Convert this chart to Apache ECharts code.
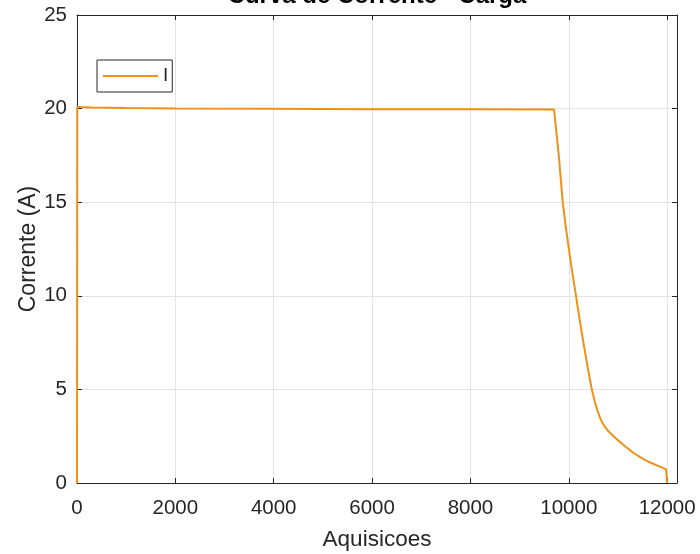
<!DOCTYPE html>
<html>
<head>
<meta charset="utf-8">
<script src="https://cdn.jsdelivr.net/npm/echarts@6/dist/echarts.min.js"></script>
<style>
  html, body { margin: 0; padding: 0; background: #fff; }
  #chart { width: 700px; height: 554px; }
</style>
</head>
<body>
<div id="chart"></div>
<script>
// Acquisition index (samples) and measured load current (A)
const aquisicoes = [
  0, 5, 50, 300, 1000, 2000, 4000, 6000, 8000, 9700,
  9719, 9800, 9876, 9940, 10000, 10070, 10146, 10210, 10270, 10330,
  10390, 10430, 10465, 10520, 10580, 10640, 10700, 10770, 10838, 10950,
  11050, 11150, 11244, 11262, 11285, 11350, 11450, 11584, 11700, 11800,
  11900, 11976, 12000, 12000
];
const corrente = [
  0, 20.1, 20.08, 20.06, 20.03, 20.01, 19.99, 19.97, 19.96, 19.95,
  19.95, 17.4, 15.0, 13.66, 12.52, 11.26, 10.0, 8.9, 7.93, 6.99,
  6.1, 5.53, 5.03, 4.42, 3.88, 3.45, 3.13, 2.87, 2.68, 2.4,
  2.17, 1.95, 1.76, 1.8, 1.66, 1.55, 1.38, 1.18, 1.04, 0.93,
  0.82, 0.74, 0.72, 0
];
const xTicks = [0, 2000, 4000, 6000, 8000, 10000, 12000];
const yTicks = [0, 5, 10, 15, 20, 25];

const FONT = '"Liberation Sans", Arial, Helvetica, sans-serif';
const AXIS = '#262626';
const GRID = '#e3e3e3';
const LINE = '#f0901a';

const points = aquisicoes.map((x, i) => [x, corrente[i]]);

const chart = echarts.init(document.getElementById('chart'), null, { renderer: 'canvas' });

const xBase = {
  type: 'value', min: 0, max: 12200, interval: 2000,
  nameMoveOverlap: false,
  axisLine: { show: true, onZero: false, lineStyle: { color: AXIS, width: 1 } },
  axisTick: { show: true, inside: true, length: 5, lineStyle: { color: AXIS } }
};
const yBase = {
  type: 'value', min: 0, max: 25, interval: 5,
  nameMoveOverlap: false,
  axisLine: { show: true, onZero: false, lineStyle: { color: AXIS, width: 1 } },
  axisTick: { show: true, inside: true, length: 5, lineStyle: { color: AXIS } }
};

chart.setOption({
  animation: false,
  backgroundColor: '#fff',
  title: {
    text: 'Curva de Corrente - Carga',
    left: 377, top: -16, textAlign: 'center', padding: 0,
    textStyle: { fontFamily: FONT, fontSize: 24, fontWeight: 'bold', color: '#000' }
  },
  grid: {
    left: 77, right: 23, top: 15, bottom: 71,
    containLabel: false, outerBoundsMode: 'none'
  },
  legend: {
    left: 97, top: 60,
    orient: 'vertical',
    backgroundColor: '#fff',
    borderColor: AXIS, borderWidth: 1, borderRadius: 0,
    padding: [6, 4, 6, 6],
    itemWidth: 55, itemHeight: 14, itemGap: 0,
    textStyle: { fontFamily: FONT, fontSize: 19, lineHeight: 20, color: AXIS, padding: [0, 0, 0, 0] },
    data: [{ name: 'I', icon: 'path://M0,0 L100,0 L100,3.6 L0,3.6 Z' }],
    itemStyle: { color: LINE }
  },
  xAxis: [
    Object.assign({}, xBase, {
      position: 'bottom',
      name: 'Aquisicoes', nameLocation: 'middle', nameGap: 45,
      nameTextStyle: { fontFamily: FONT, fontSize: 22.5, color: AXIS },
      axisLabel: {
        fontFamily: FONT, fontSize: 20.5, color: AXIS, margin: 15,
        showMaxLabel: false,
        formatter: v => (xTicks.indexOf(v) >= 0 ? String(v) : '')
      },
      splitLine: { show: true, lineStyle: { color: GRID, width: 1 } }
    }),
    Object.assign({}, xBase, {
      position: 'top',
      axisLabel: { show: false },
      splitLine: { show: false }
    })
  ],
  yAxis: [
    Object.assign({}, yBase, {
      position: 'left',
      name: 'Corrente (A)', nameLocation: 'middle', nameGap: 37,
      nameTextStyle: { fontFamily: FONT, fontSize: 23, color: AXIS },
      axisLabel: {
        fontFamily: FONT, fontSize: 20.5, color: AXIS, margin: 10,
        formatter: v => (yTicks.indexOf(v) >= 0 ? String(v) : '')
      },
      splitLine: { show: true, lineStyle: { color: GRID, width: 1 } }
    }),
    Object.assign({}, yBase, {
      position: 'right',
      axisLabel: { show: false },
      splitLine: { show: false }
    })
  ],
  series: [{
    name: 'I',
    type: 'line',
    data: points,
    symbol: 'none',
    clip: false,
    lineStyle: { color: LINE, width: 2 },
    itemStyle: { color: LINE },
    z: 3
  }]
});
</script>
</body>
</html>
